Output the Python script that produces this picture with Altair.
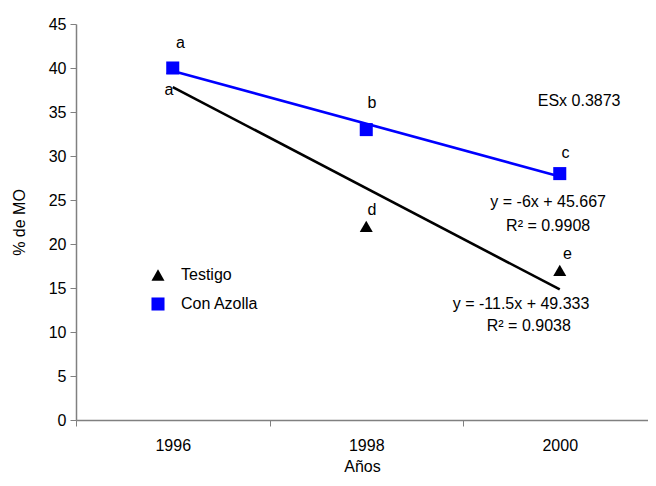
import altair as alt
import pandas as pd

years = ["1996", "1998", "2000"]
xpos = [1, 2, 3]
testigo = [40, 22, 17]
azolla = [40, 33, 28]
series = ["Testigo", "Con Azolla"]
colors = ["#000000", "#0000FF"]

# annotation letters
let_text = ["a", "a", "b", "c", "d", "e"]
let_x = [1.04, 0.98, 2.03, 3.03, 2.03, 3.04]
let_y = [42.8, 37.5, 36.0, 30.3, 23.9, 18.9]

# equation / stats texts
eq_text = ["y = -6x + 45.667", "R² = 0.9908", "y = -11.5x + 49.333", "R² = 0.9038", "ESx 0.3873"]
eq_x = [2.94, 2.94, 2.80, 2.84, 3.10]
eq_y = [24.8, 22.0, 13.2, 10.7, 36.25]

FONT = "Liberation Sans"

rows = []
for s, vals in zip(series, [testigo, azolla]):
    for x, v in zip(xpos, vals):
        rows.append({"serie": s, "x": x, "pct": v})
df = pd.DataFrame(rows)
df_let = pd.DataFrame({"t": let_text, "x": let_x, "y": let_y})
df_eq = pd.DataFrame({"t": eq_text, "x": eq_x, "y": eq_y})

label_expr = " : ".join(
    [f"datum.value == {x} ? '{y}'" for x, y in zip(xpos, years)]
) + " : ''"

xscale = alt.Scale(domain=[0.5, 3.456], nice=False, zero=False)
yscale = alt.Scale(domain=[0, 45], nice=False)

xaxis = alt.Axis(
    values=[0.5, 1, 1.5, 2, 2.5, 3],
    labelExpr=label_expr,
    title="Años",
    grid=False,
    tickSize=6,
    tickOpacity={"expr": "datum.value % 1 == 0 ? 0 : 1"},
    labelPadding=11,
    titlePadding=5,
    labelFont=FONT, labelFontSize=16, labelColor="#000",
    titleFont=FONT, titleFontSize=16, titleFontWeight="normal", titleColor="#000",
    domainColor="#808080", tickColor="#808080", domainWidth=1.5,
)
yaxis = alt.Axis(
    values=list(range(0, 46, 5)),
    title="% de MO",
    grid=False,
    tickSize=6,
    labelPadding=4,
    titlePadding=21,
    labelFont=FONT, labelFontSize=16, labelColor="#000",
    titleFont=FONT, titleFontSize=16, titleFontWeight="normal", titleColor="#000",
    domainColor="#808080", tickColor="#808080", domainWidth=1.5,
)

base = alt.Chart(df)

line_layers = []
for s, c in zip(series, colors):
    line_layers.append(
        base.transform_filter(alt.datum.serie == s).transform_regression(
            "x", "pct"
        ).mark_line(strokeWidth=2.6, color=c).encode(
            x=alt.X("x:Q", scale=xscale, axis=xaxis),
            y=alt.Y("pct:Q", scale=yscale, axis=yaxis),
        )
    )

points = base.mark_point(filled=True, opacity=1, size=170).encode(
    x=alt.X("x:Q", scale=xscale, axis=xaxis),
    y=alt.Y("pct:Q", scale=yscale, axis=yaxis),
    color=alt.Color("serie:N", scale=alt.Scale(domain=series, range=colors), title=None),
    shape=alt.Shape("serie:N", scale=alt.Scale(domain=series, range=["triangle-up", "square"]), title=None),
)

letters = alt.Chart(df_let).mark_text(font=FONT, fontSize=16, color="#000", align="center", baseline="middle").encode(
    x=alt.X("x:Q", scale=xscale), y=alt.Y("y:Q", scale=yscale), text="t:N"
)
eqs = alt.Chart(df_eq).mark_text(font=FONT, fontSize=16, color="#000", align="center", baseline="middle").encode(
    x=alt.X("x:Q", scale=xscale), y=alt.Y("y:Q", scale=yscale), text="t:N"
)

chart = alt.layer(*line_layers, points, letters, eqs).properties(
    width=572, height=396,
    background="white",
    autosize=alt.AutoSizeParams(type="none"),
    padding={"left": 68, "top": 16, "right": 0, "bottom": 54},
).configure_view(stroke=None).configure_legend(
    orient="none", legendX=74, legendY=243, padding=0,
    labelFont=FONT, labelFontSize=16, labelColor="#000",
    labelOffset=15, rowPadding=13, symbolSize=170,
)

chart.save("out.html", embed_options={"renderer": "svg", "actions": False})
